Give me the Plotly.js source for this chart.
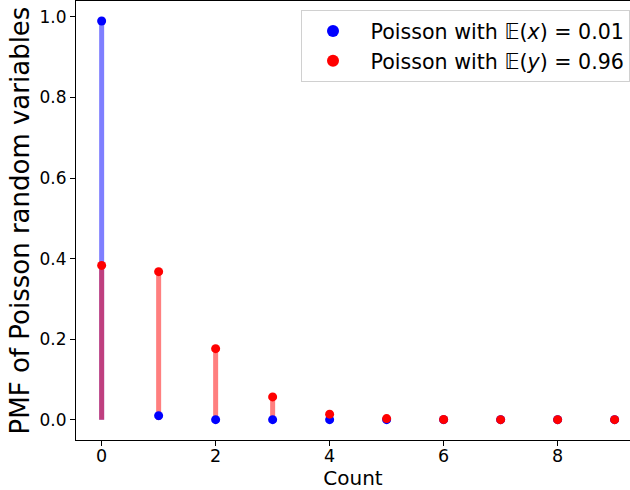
<!DOCTYPE html>
<html><head><meta charset="utf-8">
<script src="https://cdn.plot.ly/plotly-3.0.1.min.js"></script>
<style>body{margin:0;padding:0;background:#fff}#chart{width:630px;height:490px}</style>
</head><body><div id="chart"></div>
<script>
const counts = [0,1,2,3,4,5,6,7,8,9];
const pmfX = [0.990, 0.0099, 0.00005, 0.0000002, 0, 0, 0, 0, 0, 0];
const pmfY = [0.383, 0.3676, 0.1764, 0.0565, 0.0136, 0.0026, 0.0004, 0.00006, 0.000007, 0.0000007];
const nameX = "\u00A0Poisson with 𝔼(<i>x</i>) = 0.01";
const nameY = "\u00A0Poisson with 𝔼(<i>y</i>) = 0.96";

function stems(xs, ys){
  const sx=[], sy=[];
  xs.forEach((x,i)=>{ sx.push(x,x,null); sy.push(0,ys[i],null); });
  return {x:sx, y:sy};
}
const sX = stems(counts, pmfX), sY = stems(counts, pmfY);
const font = "DejaVu Sans, sans-serif";
const data = [
  {x:sX.x, y:sX.y, mode:'lines', line:{color:'rgba(0,0,255,0.5)', width:5}, showlegend:false, hoverinfo:'skip'},
  {x:sY.x, y:sY.y, mode:'lines', line:{color:'rgba(255,0,0,0.5)', width:5}, showlegend:false, hoverinfo:'skip'},
  {x:counts, y:pmfX, mode:'markers', name:nameX, marker:{color:'#0000ff', size:9}},
  {x:counts, y:pmfY, mode:'markers', name:nameY, marker:{color:'#ff0000', size:9}}
];
const layout = {
  width:630, height:490,
  margin:{l:76, r:0, t:1, b:50},
  paper_bgcolor:'#fff', plot_bgcolor:'#fff',
  font:{family:font, color:'#000'},
  xaxis:{range:[-0.45, 9.27], tickvals:[0,2,4,6,8], showgrid:false, zeroline:false,
    showline:true, linecolor:'#000', linewidth:1, mirror:true,
    ticks:'outside', ticklen:5, tickcolor:'#000', tickfont:{size:17.5, family:font}, ticklabelstandoff:-5,
    title:{text:'Count', font:{size:20, family:font}, standoff:9}},
  yaxis:{range:[-0.0505, 1.0397], tickvals:[0,0.2,0.4,0.6,0.8,1.0], tickformat:'.1f', showgrid:false, zeroline:false,
    showline:true, linecolor:'#000', linewidth:1, mirror:false,
    ticks:'outside', ticklen:5, tickcolor:'#000', tickfont:{size:17, family:font},
    title:{text:'PMF of Poisson random variables', font:{size:26, family:font}, standoff:2}},
  legend:{x:1, xanchor:'right', y:0.9795, yanchor:'top', bgcolor:'#fff', bordercolor:'#d0d0d0', borderwidth:1,
    font:{size:20.6, family:font}, tracegroupgap:0, itemwidth:52, itemsizing:'constant'},
  showlegend:true
};
Plotly.newPlot('chart', data, layout, {displayModeBar:false, staticPlot:true});
</script></body></html>
